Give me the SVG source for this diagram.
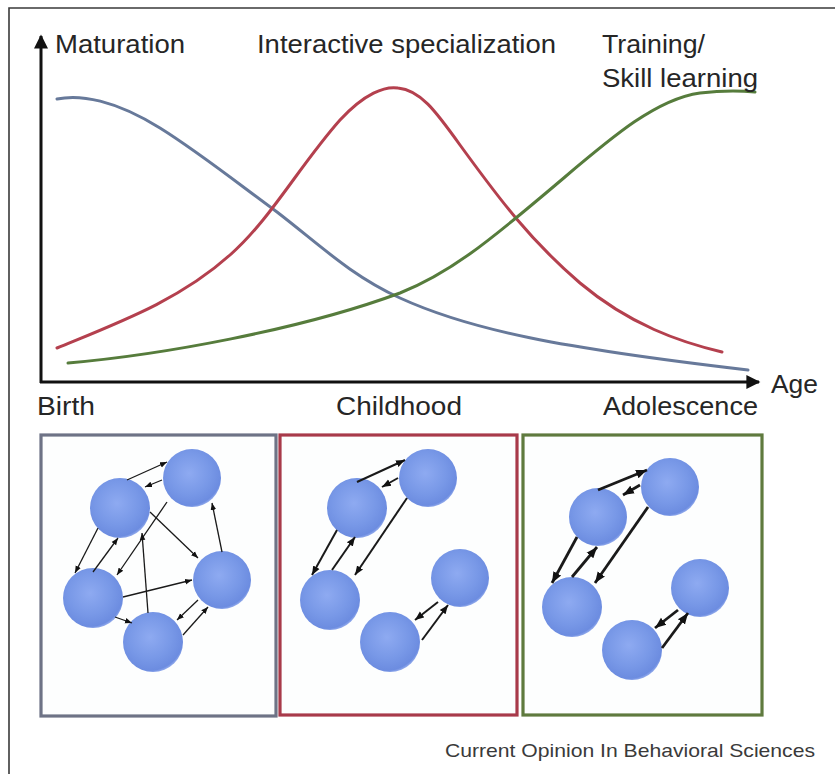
<svg xmlns="http://www.w3.org/2000/svg" width="835" height="774" viewBox="0 0 835 774">
  <style>
    .lbl { font-family: "Liberation Sans", Arial, sans-serif; font-size: 25px; fill: #262626; }
    .cap { font-family: "Liberation Sans", Arial, sans-serif; font-size: 18.5px; fill: #3a3a3a; }
    .axis { stroke: #111; stroke-width: 3; fill: none; }
    .curve { fill: none; stroke-width: 3; stroke-linecap: round; }
    .panel { fill: #fdfefe; stroke-width: 3.2; }
    .ball { fill: url(#ball); }
    .c1 { stroke: #1a1a1a; stroke-width: 1.3; fill: none; marker-end: url(#m1); }
    .c2 { stroke: #1a1a1a; stroke-width: 2; fill: none; marker-end: url(#m2); }
    .c3 { stroke: #1a1a1a; stroke-width: 2.8; fill: none; marker-end: url(#m3); }
  </style>
  <defs>
    <radialGradient id="ball" cx="0.45" cy="0.42" r="0.6">
      <stop offset="0" stop-color="#8eaaf1"/>
      <stop offset="0.6" stop-color="#7898e7"/>
      <stop offset="0.92" stop-color="#6c8ce0"/>
      <stop offset="1" stop-color="#9bb2ef"/>
    </radialGradient>
    <marker id="m1" viewBox="0 0 10 10" refX="10" refY="5" markerWidth="7" markerHeight="7" markerUnits="userSpaceOnUse" orient="auto">
      <path d="M0,1 L10,5 L0,9 z" fill="#111"/>
    </marker>
    <marker id="m2" viewBox="0 0 10 10" refX="10" refY="5" markerWidth="9" markerHeight="9" markerUnits="userSpaceOnUse" orient="auto">
      <path d="M0,1 L10,5 L0,9 z" fill="#111"/>
    </marker>
    <marker id="m3" viewBox="0 0 10 10" refX="10" refY="5" markerWidth="11" markerHeight="11" markerUnits="userSpaceOnUse" orient="auto">
      <path d="M0,1 L10,5 L0,9 z" fill="#111"/>
    </marker>
    <marker id="ax" viewBox="0 0 10 10" refX="9" refY="5" markerWidth="16" markerHeight="14" markerUnits="userSpaceOnUse" orient="auto">
      <path d="M0,0 L10,5 L0,10 z" fill="#111"/>
    </marker>
  </defs>

  <rect x="0" y="0" width="835" height="774" fill="#ffffff"/>
  <!-- outer frame (top and left edges) -->
  <path d="M9,774 L9,8 L835,8" fill="none" stroke="#3a3a3a" stroke-width="1.6"/>

  <!-- axes -->
  <g id="axes">
    <path class="axis" d="M41,383 L41,36" marker-end="url(#ax)"/>
    <path class="axis" d="M40,382 L759,382" marker-end="url(#ax)"/>
  </g>

  <!-- curves -->
  <g id="curves">
    <path class="curve" stroke="#67799a" d="M57,99 C80,94 115,100 160,128 C200,153 240,185 277,212 C320,245 350,275 400,298 C470,330 560,348 748,370"/>
    <path class="curve" stroke="#b4404e" d="M57,348 C120,322 180,300 230,255 C270,220 300,165 340,120 C365,93 385,86 398,88 C420,90 435,110 460,145 C500,200 530,240 580,283 C630,325 680,342 722,352"/>
    <path class="curve" stroke="#567c3c" d="M68,363 C160,355 300,330 400,293 C450,273 490,240 540,198 C600,148 650,100 700,93 C725,90 745,91 755,92"/>
  </g>

  <!-- labels -->
  <g id="labels">
    <text class="lbl" x="55" y="53" textLength="130" lengthAdjust="spacingAndGlyphs">Maturation</text>
    <text class="lbl" x="257" y="53" textLength="299" lengthAdjust="spacingAndGlyphs">Interactive specialization</text>
    <text class="lbl" x="602" y="53" textLength="103" lengthAdjust="spacingAndGlyphs">Training/</text>
    <text class="lbl" x="602" y="87" textLength="156" lengthAdjust="spacingAndGlyphs">Skill learning</text>
    <text class="lbl" x="771" y="393" textLength="47" lengthAdjust="spacingAndGlyphs">Age</text>
    <text class="lbl" x="37" y="415" textLength="58" lengthAdjust="spacingAndGlyphs">Birth</text>
    <text class="lbl" x="336" y="415" textLength="126" lengthAdjust="spacingAndGlyphs">Childhood</text>
    <text class="lbl" x="603" y="415" textLength="155" lengthAdjust="spacingAndGlyphs">Adolescence</text>
    <text class="cap" x="445" y="757" textLength="370" lengthAdjust="spacingAndGlyphs">Current Opinion In Behavioral Sciences</text>
  </g>

  <!-- panels -->
  <g id="panel-birth"><rect class="panel" x="41" y="435" width="235" height="281" stroke="#6e7386"/></g>
  <g id="panel-childhood"><rect class="panel" x="280" y="435" width="237" height="280" stroke="#a83a4a"/></g>
  <g id="panel-adolescence"><rect class="panel" x="523" y="435" width="239" height="280" stroke="#5f7a3e"/></g>

  <!-- nodes: birth -->
  <g id="n1a"><circle class="ball" cx="192" cy="478" r="29"/></g>
  <g id="n1b"><circle class="ball" cx="120" cy="508" r="30"/></g>
  <g id="n1c"><circle class="ball" cx="93" cy="598" r="30"/></g>
  <g id="n1d"><circle class="ball" cx="222" cy="580" r="29"/></g>
  <g id="n1e"><circle class="ball" cx="153" cy="642" r="30"/></g>
  <!-- nodes: childhood -->
  <g id="n2a"><circle class="ball" cx="428" cy="478" r="29"/></g>
  <g id="n2b"><circle class="ball" cx="357" cy="508" r="30"/></g>
  <g id="n2c"><circle class="ball" cx="330" cy="600" r="30"/></g>
  <g id="n2d"><circle class="ball" cx="460" cy="578" r="29"/></g>
  <g id="n2e"><circle class="ball" cx="390" cy="642" r="30"/></g>
  <!-- nodes: adolescence -->
  <g id="n3a"><circle class="ball" cx="670" cy="487" r="29"/></g>
  <g id="n3b"><circle class="ball" cx="598" cy="517" r="29"/></g>
  <g id="n3c"><circle class="ball" cx="572" cy="607" r="30"/></g>
  <g id="n3d"><circle class="ball" cx="700" cy="588" r="29"/></g>
  <g id="n3e"><circle class="ball" cx="632" cy="650" r="30"/></g>

  <!-- connectors -->
  <g id="connectors">
    <path class="c1" d="M127,480 L167,462"/>
    <path class="c1" d="M162,480 L145,487"/>
    <path class="c1" d="M98,528 L75,573"/>
    <path class="c1" d="M93,572 L118,538"/>
    <path class="c1" d="M167,502 L117,575"/>
    <path class="c1" d="M148,613 L142,533"/>
    <path class="c1" d="M150,512 L198,558"/>
    <path class="c1" d="M222,552 L212,503"/>
    <path class="c1" d="M123,597 L192,580"/>
    <path class="c1" d="M115,617 L132,623"/>
    <path class="c1" d="M198,600 L177,620"/>
    <path class="c1" d="M183,635 L208,607"/>

    <path class="c2" d="M357,482 L405,460"/>
    <path class="c2" d="M398,478 L382,487"/>
    <path class="c2" d="M337,530 L312,575"/>
    <path class="c2" d="M332,570 L355,537"/>
    <path class="c2" d="M407,498 L355,575"/>
    <path class="c2" d="M438,602 L415,620"/>
    <path class="c2" d="M422,640 L448,605"/>

    <path class="c3" d="M598,490 L647,470"/>
    <path class="c3" d="M640,485 L623,495"/>
    <path class="c3" d="M577,537 L552,583"/>
    <path class="c3" d="M572,577 L597,547"/>
    <path class="c3" d="M648,507 L595,583"/>
    <path class="c3" d="M678,610 L655,628"/>
    <path class="c3" d="M662,648 L688,613"/>
  </g>
</svg>
